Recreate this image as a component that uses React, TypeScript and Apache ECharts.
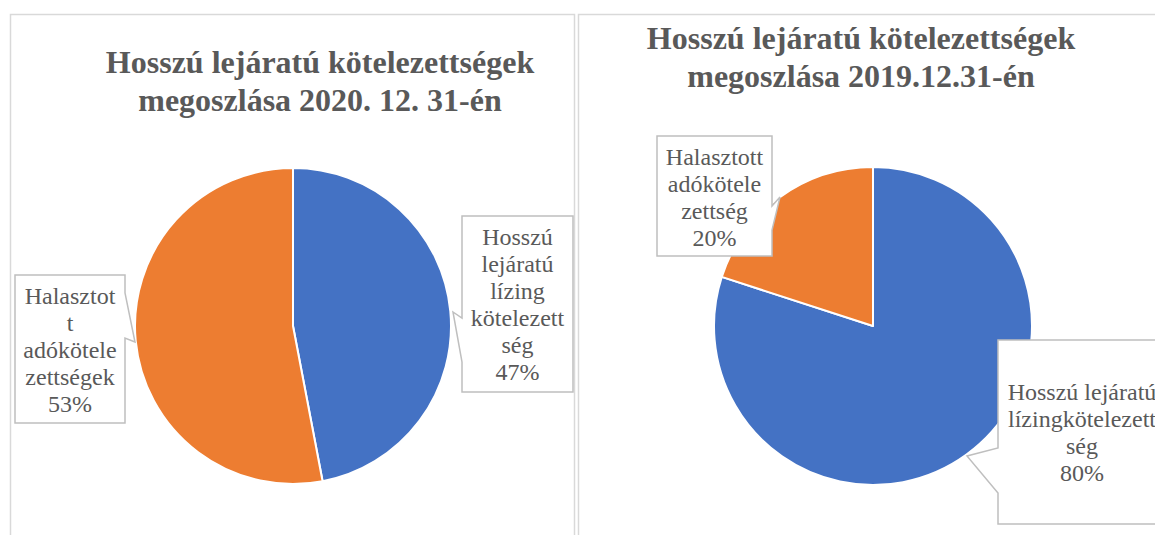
import React, { useEffect, useRef } from "react";
import * as echarts from "echarts";

// ---- data ----
const titles = [
  "Hosszú lejáratú kötelezettségek\nmegoszlása 2020. 12. 31-én",
  "Hosszú lejáratú kötelezettségek\nmegoszlása 2019.12.31-én",
];
const categories2020 = ["Hosszú lejáratú lízing kötelezettség", "Halasztott adókötelezettségek"];
const values2020 = [47, 53];
const labelText2020 = ["Hosszú\nlejáratú\nlízing\nkötelezett\nség", "Halasztot\nt\nadókötele\nzettségek"];
const categories2019 = ["Hosszú lejáratú lízingkötelezettség", "Halasztott adókötelezettség"];
const values2019 = [80, 20];
const labelText2019 = ["Hosszú lejáratú\nlízingkötelezett\nség", "Halasztott\nadókötele\nzettség"];
const colors = ["#4472c4", "#ed7d31"];

// ---- layout ----
const FONT = "Liberation Serif";
const TEXT = "#595959";
const BOX = "#bfbfbf";
const pies = [
  { center: [293, 326], radius: 158 },
  { center: [873, 326], radius: 159 },
];
const labelPos2020 = [
  [517.5, 304],
  [70, 350],
];
const labelPos2019 = [
  [1082, 432],
  [714.5, 197],
];
// callout outlines (box with pointer)
const callouts = [
  [[462, 216], [573, 216], [573, 392], [462, 392], [462, 362], [453, 312], [462, 318]],
  [[15, 275], [125, 275], [125, 293], [135, 342], [125, 338], [125, 423], [15, 423]],
  [[998, 340], [1170, 340], [1170, 524], [998, 524], [998, 493], [967, 456], [998, 448]],
  [[657, 136], [772, 136], [772, 206], [780, 197], [772, 230], [772, 256], [657, 256]],
];

function sectorSeries(idx: number, names: string[], values: number[]) {
  return {
    type: "pie",
    center: pies[idx].center,
    radius: pies[idx].radius,
    startAngle: 90,
    clockwise: true,
    silent: true,
    z: 2,
    itemStyle: { borderColor: "#ffffff", borderWidth: 2 },
    emphasis: { disabled: true },
    label: { show: false },
    labelLine: { show: false },
    data: names.map((n, i) => ({ name: n, value: values[i], itemStyle: { color: colors[i] } })),
  };
}

function labelSeries(idx: number, names: string[], values: number[], texts: string[], pos: number[][]) {
  return {
    type: "pie",
    center: pies[idx].center,
    radius: pies[idx].radius,
    startAngle: 90,
    clockwise: true,
    silent: true,
    z: 10,
    itemStyle: { color: "rgba(0,0,0,0)", borderWidth: 0 },
    emphasis: { disabled: true },
    labelLine: { show: false },
    label: {
      show: true,
      position: "inside",
      color: TEXT,
      fontFamily: FONT,
      fontSize: 24,
      lineHeight: 27,
      align: "center",
      verticalAlign: "middle",
      formatter: (p: any) => texts[p.dataIndex] + "\n" + Math.round(p.percent) + "%",
    },
    labelLayout: (p: any) => ({
      x: pos[p.dataIndex][0],
      y: pos[p.dataIndex][1],
      align: "center",
      verticalAlign: "middle",
    }),
    data: names.map((n, i) => ({ name: n, value: values[i] })),
  };
}

export default function App() {
  const ref = useRef<HTMLDivElement>(null);
  useEffect(() => {
    if (!ref.current) return;
    const chart = echarts.init(ref.current, null, { renderer: "svg" });
    const graphics: any[] = [
      {
        type: "rect",
        z: 0,
        silent: true,
        shape: { x: 10.5, y: 14.5, width: 564, height: 600 },
        style: { fill: "none", stroke: "#d9d9d9", lineWidth: 1.5 },
      },
      {
        type: "rect",
        z: 0,
        silent: true,
        shape: { x: 578.5, y: 14.5, width: 700, height: 600 },
        style: { fill: "none", stroke: "#d9d9d9", lineWidth: 1.5 },
      },
    ];
    callouts.forEach((pts) => {
      graphics.push({
        type: "polygon",
        z: 5,
        silent: true,
        shape: { points: pts },
        style: { fill: "#ffffff", stroke: BOX, lineWidth: 1.5 },
      });
    });
    const titleStyle = { fontFamily: FONT, fontSize: 32, fontWeight: "bold", color: TEXT, lineHeight: 38 };
    chart.setOption({
      animation: false,
      backgroundColor: "#ffffff",
      title: [
        { text: titles[0], left: 320, top: 43, padding: 0, textAlign: "center", textStyle: titleStyle },
        { text: titles[1], left: 861, top: 19, padding: 0, textAlign: "center", textStyle: titleStyle },
      ],
      series: [
        sectorSeries(0, categories2020, values2020),
        sectorSeries(1, categories2019, values2019),
        labelSeries(0, categories2020, values2020, labelText2020, labelPos2020),
        labelSeries(1, categories2019, values2019, labelText2019, labelPos2019),
      ],
      graphic: graphics,
    });
    return () => chart.dispose();
  }, []);
  return (
    <div
      ref={ref}
      style={{ position: "absolute", left: 0, top: 0, width: 1155, height: 535 }}
    />
  );
}
